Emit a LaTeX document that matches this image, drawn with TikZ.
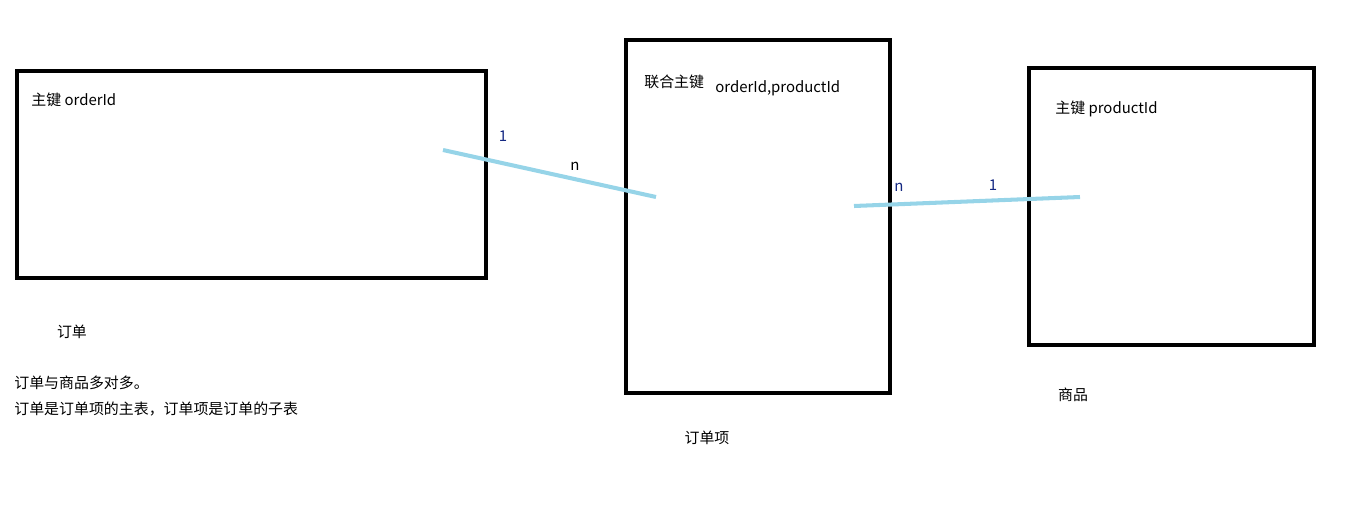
\documentclass[tikz,border=0pt]{standalone}
\usepackage{fontspec}
\setmainfont{Noto Sans CJK SC}
\usetikzlibrary{positioning}

\tikzset{
  table/.style={draw, line width=2.3pt, inner sep=0pt},
  link/.style={draw=cyan!35!blue!25!white, line width=2.3pt, color={rgb,255:red,150;green,212;blue,232}},
  lbl/.style={font=\fontsize{8.5}{10}\selectfont, inner sep=0pt},
  mult/.style={lbl, text={rgb,255:red,20;green,40;blue,130}}
}

\begin{document}
\begin{tikzpicture}[x=0.02cm, y=-0.02cm]
    \useasboundingbox (0,0) rectangle (1357,528);
    % Tables
    \node[table, minimum width=469*0.02cm, minimum height=207*0.02cm] (order) at (251.5,174.5) {};
    \node[table, minimum width=264*0.02cm, minimum height=353*0.02cm] (item) at (758,216.5) {};
    \node[table, minimum width=285*0.02cm, minimum height=277*0.02cm] (product) at (1171.5,206.5) {};

    % Keys
    \node[lbl, anchor=west] (orderkey) at (31,100) {主键 orderId};
    \node[lbl, anchor=west] (itemkey) at (644,82) {联合主键};
    \node[lbl, anchor=west] (itemids) at (715,88) {orderId,productId};
    \node[lbl, anchor=west] (productkey) at (1055,109) {主键 productId};

    % Relations
    \coordinate (o1) at (443,150);
    \coordinate (i1) at (656,197);
    \coordinate (i2) at (854,206);
    \coordinate (p1) at (1080,197);
    \draw[link] (o1) -- (i1);
    \draw[link] (i2) -- (p1);
    \node[mult] (one1) at (503,136) {1};
    \node[lbl] (many1) at (575,166) {n};
    \node[mult] (many2) at (899,187) {n};
    \node[mult] (one2) at (993,185) {1};

    % Captions
    \node[lbl] (ordername) at (72,332) {订单};
    \node[lbl] (itemname) at (707,438) {订单项};
    \node[lbl] (productname) at (1073,395) {商品};
    \node[lbl, anchor=west] (note1) at (14,383) {订单与商品多对多。};
    \node[lbl, anchor=west] (note2) at (14,409) {订单是订单项的主表，订单项是订单的子表};
\end{tikzpicture}
\end{document}
